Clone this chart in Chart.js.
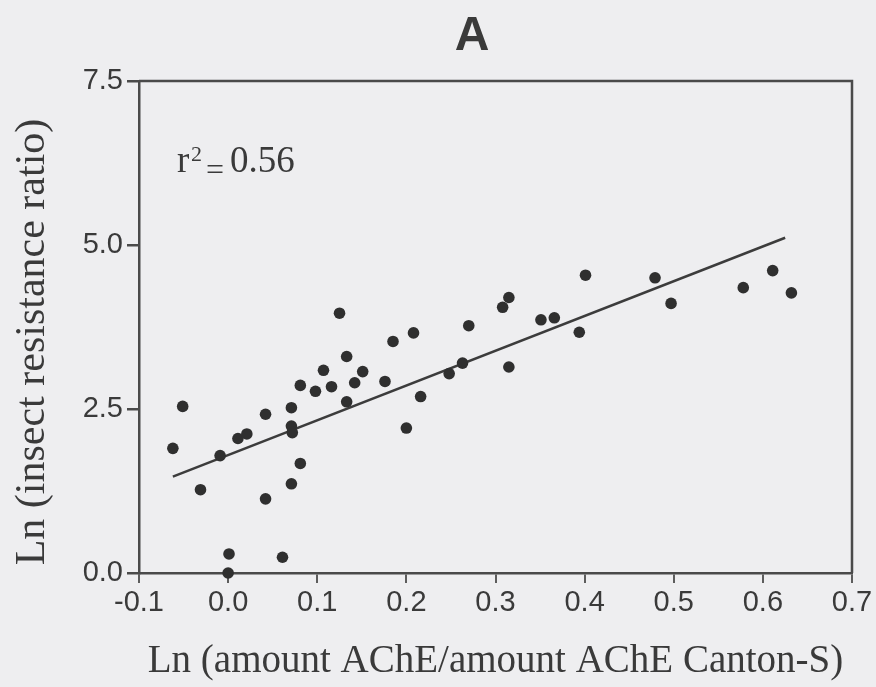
<!DOCTYPE html>
<html>
<head>
<meta charset="utf-8">
<script src="https://cdn.jsdelivr.net/npm/chart.js@4/dist/chart.umd.min.js"></script>
<style>
  body { margin: 0; background: #eeeef0; }
  #wrap { width: 876px; height: 687px; }
</style>
</head>
<body>
<div id="wrap"><canvas id="acheChart" width="876" height="687"></canvas></div>
<script>
// Ln(amount AChE / amount AChE Canton-S) for each strain
const acheLn = [-0.062, -0.051, -0.031, -0.009, 0.000, 0.001, 0.011, 0.021, 0.042, 0.042,
  0.061, 0.071, 0.071, 0.072, 0.071, 0.081, 0.081, 0.098, 0.107, 0.116,
  0.125, 0.133, 0.133, 0.142, 0.151, 0.176, 0.185, 0.200, 0.208, 0.216,
  0.248, 0.263, 0.270, 0.308, 0.315, 0.315, 0.351, 0.366, 0.394, 0.401,
  0.479, 0.497, 0.578, 0.611, 0.632];
// Ln(insect resistance ratio)
const resistLn = [1.90, 2.54, 1.27, 1.79, 0.00, 0.29, 2.05, 2.12, 2.42, 1.13,
  0.24, 2.52, 2.24, 2.14, 1.36, 1.67, 2.86, 2.77, 3.09, 2.84,
  3.96, 3.30, 2.61, 2.90, 3.07, 2.92, 3.53, 2.21, 3.66, 2.69,
  3.04, 3.20, 3.77, 4.05, 4.20, 3.14, 3.86, 3.89, 3.67, 4.54,
  4.50, 4.11, 4.35, 4.61, 4.27];

// regression line end points as drawn
const fitX = [-0.062, 0.625];
const fitY = [1.47, 5.11];

const xTicks = [-0.1, 0.0, 0.1, 0.2, 0.3, 0.4, 0.5, 0.6, 0.7];
const yTicks = [0.0, 2.5, 5.0, 7.5];
const panelLabel = "A";
const r2Text = "0.56";

const axisColor = "#4a4a4a";
const textColor = "#3a3a3a";

const points = acheLn.map((x, i) => ({ x: x, y: resistLn[i] }));
const fitLine = fitX.map((x, i) => ({ x: x, y: fitY[i] }));

// frame, panel letter, r² note and y title
const extras = {
  id: "extras",
  afterDraw(chart) {
    const { ctx, chartArea: a } = chart;
    ctx.save();
    ctx.strokeStyle = axisColor;
    ctx.lineWidth = 2.5;
    ctx.beginPath();
    ctx.moveTo(a.left, a.top);
    ctx.lineTo(a.right, a.top);
    ctx.lineTo(a.right, a.bottom);
    ctx.stroke();

    ctx.fillStyle = textColor;
    ctx.textAlign = "center";
    ctx.textBaseline = "alphabetic";
    ctx.font = "bold 48px 'Liberation Sans', Arial, sans-serif";
    ctx.fillText(panelLabel, 472, 50);

    ctx.textAlign = "left";
    ctx.font = "37px 'Liberation Serif', 'Times New Roman', serif";
    ctx.fillText("r", 177, 172);
    ctx.font = "22px 'Liberation Serif', 'Times New Roman', serif";
    ctx.fillText("2", 191, 161);
    ctx.font = "32px 'Liberation Serif', 'Times New Roman', serif";
    ctx.fillText("=", 206, 180);
    ctx.font = "37px 'Liberation Serif', 'Times New Roman', serif";
    ctx.fillText(r2Text, 230, 172);

    ctx.translate(33, 342);
    ctx.rotate(-Math.PI / 2);
    ctx.textAlign = "center";
    ctx.textBaseline = "middle";
    ctx.font = "42px 'Liberation Serif', 'Times New Roman', serif";
    ctx.fillText("Ln (insect resistance ratio)", 0, 0);
    ctx.restore();
  }
};

const ctx = document.getElementById("acheChart").getContext("2d");
const acheChart = new Chart(ctx, {
  type: "scatter",
  data: {
    datasets: [{
      label: "strains",
      data: points,
      backgroundColor: "#2f2f2f",
      borderWidth: 0,
      pointRadius: 5.8,
      pointHoverRadius: 5.8,
      clip: false
    }, {
      label: "fit",
      type: "line",
      data: fitLine,
      borderColor: "#3c3c3c",
      borderWidth: 2.5,
      pointRadius: 0,
      fill: false
    }]
  },
  options: {
    responsive: false,
    devicePixelRatio: 1,
    animation: false,
    layout: { padding: { top: 81, right: 24, left: 0, bottom: 0 } },
    plugins: {
      legend: { display: false },
      tooltip: { enabled: false }
    },
    scales: {
      x: {
        type: "linear",
        min: -0.1,
        max: 0.7,
        afterBuildTicks: (scale) => { scale.ticks = xTicks.map(v => ({ value: v })); },
        afterFit: (scale) => { scale.height = 114; },
        ticks: {
          padding: 3,
          color: textColor,
          font: { family: "'Liberation Sans', Arial, sans-serif", size: 29 },
          callback: (v) => v.toFixed(1),
          maxRotation: 0
        },
        grid: { drawOnChartArea: false, tickLength: 10, color: "#5c5c5c", lineWidth: 2 },
        border: { color: axisColor, width: 2.5 },
        title: {
          display: true,
          text: "Ln (amount AChE/amount AChE Canton-S)",
          color: textColor,
          font: { family: "'Liberation Serif', 'Times New Roman', serif", size: 39 },
          padding: { top: 0, bottom: 2 }
        }
      },
      y: {
        type: "linear",
        min: 0,
        max: 7.5,
        afterBuildTicks: (scale) => { scale.ticks = yTicks.map(v => ({ value: v })); },
        afterFit: (scale) => { scale.width = 139; },
        ticks: {
          padding: 4,
          color: textColor,
          font: { family: "'Liberation Sans', Arial, sans-serif", size: 29 },
          callback: (v) => v.toFixed(1)
        },
        grid: { drawOnChartArea: false, tickLength: 12, color: axisColor, lineWidth: 2.5 },
        border: { color: axisColor, width: 2.5 }
      }
    }
  },
  plugins: [extras]
});
</script>
</body>
</html>
